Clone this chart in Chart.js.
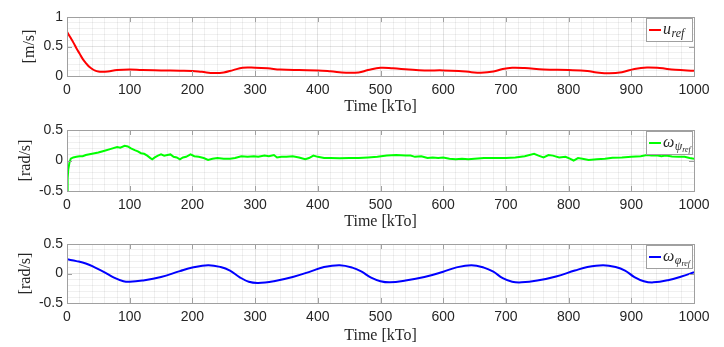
<!DOCTYPE html>
<html>
<head>
<meta charset="utf-8">
<script src="https://cdn.jsdelivr.net/npm/chart.js@4.4.1/dist/chart.umd.min.js"></script>
<style>
  body { margin: 0; background: #ffffff; }
  canvas { position: absolute; left: 0; }
</style>
</head>
<body>
<canvas id="uChart" width="724" height="116" style="top:0px"></canvas>
<canvas id="psiChart" width="724" height="116" style="top:115px"></canvas>
<canvas id="phiChart" width="724" height="116" style="top:229px"></canvas>
<script>
// Series (time in kTo)
const uTime = [0, 5, 10, 15, 20, 25, 30, 35, 40, 45, 50, 55, 65, 80, 100, 120, 150, 180, 200, 215, 235, 250, 265, 280, 300, 320, 340, 370, 400, 420, 445, 465, 480, 500, 520, 545, 570, 600, 625, 645, 660, 680, 695, 710, 730, 760, 800, 830, 845, 865, 885, 905, 925, 945, 970, 1000];
const uValues = [0.75, 0.66, 0.57, 0.47, 0.38, 0.29, 0.22, 0.16, 0.12, 0.09, 0.075, 0.07, 0.075, 0.1, 0.11, 0.1, 0.095, 0.09, 0.085, 0.07, 0.05, 0.06, 0.1, 0.14, 0.14, 0.13, 0.11, 0.1, 0.095, 0.08, 0.055, 0.06, 0.1, 0.14, 0.13, 0.11, 0.095, 0.095, 0.085, 0.065, 0.055, 0.075, 0.12, 0.14, 0.135, 0.11, 0.1, 0.085, 0.06, 0.045, 0.065, 0.12, 0.145, 0.135, 0.105, 0.09];

const psiTime = [0, 1, 2, 4, 6, 10, 15, 20, 25, 30, 40, 50, 60, 70, 80, 85, 92, 97, 102, 108, 113, 118, 123, 128, 133, 136, 140, 145, 150, 155, 160, 165, 170, 175, 180, 185, 190, 197, 203, 210, 218, 225, 232, 240, 250, 260, 268, 278, 288, 298, 305, 315, 322, 330, 335, 342, 350, 360, 370, 380, 386, 393, 400, 410, 420, 435, 450, 465, 480, 495, 510, 525, 540, 548, 555, 565, 575, 583, 592, 600, 610, 620, 630, 640, 650, 665, 680, 700, 715, 730, 745, 752, 760, 768, 775, 785, 795, 802, 808, 815, 822, 832, 845, 858, 870, 885, 900, 915, 925, 932, 940, 948, 955, 965, 975, 985, 993, 1000];
const psiValues = [-0.5, -0.3, -0.15, -0.03, 0.03, 0.05, 0.06, 0.07, 0.07, 0.09, 0.11, 0.13, 0.16, 0.19, 0.22, 0.21, 0.24, 0.23, 0.2, 0.17, 0.15, 0.12, 0.11, 0.08, 0.04, 0.02, 0.05, 0.08, 0.1, 0.08, 0.09, 0.1, 0.06, 0.05, 0.02, 0.05, 0.06, 0.1, 0.07, 0.06, 0.04, 0.01, 0.03, 0.04, 0.03, 0.03, 0.04, 0.07, 0.06, 0.07, 0.06, 0.08, 0.07, 0.09, 0.05, 0.06, 0.06, 0.07, 0.05, 0.02, 0.04, 0.08, 0.06, 0.04, 0.04, 0.035, 0.04, 0.04, 0.05, 0.06, 0.08, 0.09, 0.08, 0.08, 0.06, 0.07, 0.04, 0.05, 0.04, 0.05, 0.03, 0.02, 0.03, 0.02, 0.03, 0.04, 0.04, 0.04, 0.05, 0.07, 0.11, 0.08, 0.05, 0.09, 0.08, 0.05, 0.06, 0.03, 0.0, 0.04, 0.03, 0.01, 0.02, 0.03, 0.045, 0.05, 0.06, 0.07, 0.09, 0.08, 0.085, 0.07, 0.08, 0.065, 0.06, 0.06, 0.04, 0.03];

const phiTime = [0, 15, 30, 45, 60, 75, 90, 100, 120, 150, 180, 200, 225, 245, 260, 275, 290, 305, 330, 360, 390, 410, 435, 455, 470, 485, 500, 515, 540, 570, 600, 620, 645, 665, 680, 695, 710, 725, 750, 780, 810, 830, 855, 875, 890, 905, 920, 935, 960, 980, 1000];
const phiValues = [0.24, 0.21, 0.17, 0.1, 0.02, -0.07, -0.13, -0.14, -0.12, -0.06, 0.04, 0.1, 0.14, 0.11, 0.05, -0.06, -0.14, -0.16, -0.13, -0.06, 0.04, 0.11, 0.14, 0.1, 0.03, -0.07, -0.13, -0.15, -0.12, -0.06, 0.03, 0.1, 0.14, 0.1, 0.03, -0.08, -0.14, -0.15, -0.12, -0.05, 0.05, 0.11, 0.14, 0.11, 0.05, -0.06, -0.13, -0.15, -0.11, -0.05, 0.02];

// Axis ranges and labelled ticks
const xRange = [0, 1000];
const xMajorStep = 100;
const uRange = [0, 1];
const omegaRange = [-0.5, 0.5];
const yMajorStep = 0.5;

const tickFont = { family: "'Liberation Sans', Arial, sans-serif", size: 14 };
const labelFont = { family: "'Liberation Serif', 'Times New Roman', serif", size: 16, lineHeight: 1.2 };
const boxColor = '#a0a0a0';

function isMajor(v, step) {
    const r = v / step;
    return Math.abs(r - Math.round(r)) < 1e-6;
}

// MATLAB-like box with inward ticks on all four sides
const matlabBox = {
    id: 'matlabBox',
    afterDatasetsDraw(chart) {
        const { ctx, chartArea: a, scales } = chart;
        ctx.save();
        ctx.strokeStyle = boxColor;
        ctx.lineWidth = 1;
        ctx.strokeRect(Math.round(a.left) + 0.5, Math.round(a.top) + 0.5,
            Math.round(a.right - a.left), Math.round(a.bottom - a.top));
        ctx.beginPath();
        scales.x.ticks.forEach(t => {
            if (!isMajor(t.value, xMajorStep)) return;
            const px = Math.round(scales.x.getPixelForValue(t.value)) + 0.5;
            ctx.moveTo(px, a.top); ctx.lineTo(px, a.top + 5);
            ctx.moveTo(px, a.bottom); ctx.lineTo(px, a.bottom - 5);
        });
        scales.y.ticks.forEach(t => {
            if (!isMajor(t.value, yMajorStep)) return;
            const py = Math.round(scales.y.getPixelForValue(t.value)) + 0.5;
            ctx.moveTo(a.left, py); ctx.lineTo(a.left + 5, py);
            ctx.moveTo(a.right, py); ctx.lineTo(a.right - 5, py);
        });
        ctx.stroke();
        ctx.restore();
    }
};

// Legend box with math-style subscripts
const mathLegend = {
    id: 'mathLegend',
    afterDraw(chart, args, opts) {
        const { ctx, chartArea: a } = chart;
        const w = 46, h = 23;
        const x = Math.round(a.right) - w - 2, y = Math.round(a.top) + 1;
        const cy = y + h / 2;
        ctx.save();
        ctx.fillStyle = '#ffffff';
        ctx.fillRect(x, y, w, h);
        ctx.strokeStyle = boxColor;
        ctx.lineWidth = 1;
        ctx.strokeRect(x + 0.5, y + 0.5, w, h);
        ctx.strokeStyle = opts.color;
        ctx.lineWidth = 2;
        ctx.beginPath();
        ctx.moveTo(x + 3, cy + 0.5);
        ctx.lineTo(x + 15, cy + 0.5);
        ctx.stroke();
        ctx.fillStyle = '#262626';
        ctx.textBaseline = 'alphabetic';
        let tx = x + 17;
        ctx.font = "italic 16px 'Liberation Serif', serif";
        ctx.fillText(opts.main, tx, cy + 4);
        tx += ctx.measureText(opts.main).width + 0.5;
        ctx.font = "italic 12px 'Liberation Serif', serif";
        ctx.fillText(opts.sub, tx, cy + 7);
        tx += ctx.measureText(opts.sub).width;
        if (opts.subsub) {
            ctx.font = "italic 8px 'Liberation Serif', serif";
            ctx.fillText(opts.subsub, tx, cy + 9);
        }
        ctx.restore();
    }
};

function makeChart(id, times, values, color, yRange, yLabel, yTitlePad, legend, smooth, padTop, xAxisHeight) {
    const points = times.map((t, i) => ({ x: t, y: values[i] }));
    return new Chart(document.getElementById(id), {
        type: 'line',
        data: {
            datasets: [{
                data: points,
                borderColor: color,
                borderWidth: 2,
                pointRadius: 0,
                fill: false,
                tension: smooth ? 0.4 : 0
            }]
        },
        options: {
            responsive: false,
            animation: false,
            layout: { padding: { top: padTop, right: 30, left: 0, bottom: 0 } },
            plugins: {
                legend: { display: false },
                tooltip: { enabled: false },
                mathLegend: legend
            },
            scales: {
                x: {
                    type: 'linear',
                    min: xRange[0],
                    max: xRange[1],
                    afterFit: s => { s.height = xAxisHeight; },
                    border: { display: false },
                    grid: {
                        drawTicks: false,
                        color: c => isMajor(c.tick.value, xMajorStep) ? 'rgba(0,0,0,0.11)' : 'rgba(0,0,0,0.06)'
                    },
                    ticks: {
                        stepSize: 20,
                        autoSkip: false,
                        maxRotation: 0,
                        padding: 6,
                        color: '#262626',
                        font: tickFont,
                        callback: v => isMajor(v, xMajorStep) ? String(v) : ''
                    },
                    title: {
                        display: true,
                        text: 'Time [kTo]',
                        color: '#262626',
                        font: labelFont,
                        padding: { top: 0, bottom: 0 }
                    }
                },
                y: {
                    min: yRange[0],
                    max: yRange[1],
                    afterFit: s => { s.width = 67; },
                    border: { display: false },
                    grid: {
                        drawTicks: false,
                        color: c => isMajor(c.tick.value, yMajorStep) ? 'rgba(0,0,0,0.11)' : 'rgba(0,0,0,0.06)'
                    },
                    ticks: {
                        stepSize: 0.1,
                        autoSkip: false,
                        padding: 4,
                        color: '#262626',
                        font: tickFont,
                        callback: v => isMajor(v, yMajorStep) ? String(Math.round(v * 10) / 10) : ''
                    },
                    title: {
                        display: true,
                        text: yLabel,
                        color: '#262626',
                        font: { family: labelFont.family, size: 16, lineHeight: 1.0 },
                        padding: { top: yTitlePad, bottom: 0 }
                    }
                }
            }
        },
        plugins: [matlabBox, mathLegend]
    });
}

makeChart('uChart', uTime, uValues, '#ff0000', uRange, '[m/s]', 22,
    { color: '#ff0000', main: 'u', sub: 'ref' }, true, 17, 40);
makeChart('psiChart', psiTime, psiValues, '#00ff00', omegaRange, '[rad/s]', 18,
    { color: '#00ff00', main: 'ω', sub: 'ψ', subsub: 'ref' }, false, 15, 40);
makeChart('phiChart', phiTime, phiValues, '#0000ff', omegaRange, '[rad/s]', 18,
    { color: '#0000ff', main: 'ω', sub: 'φ', subsub: 'ref' }, true, 15, 42);
</script>
</body>
</html>
